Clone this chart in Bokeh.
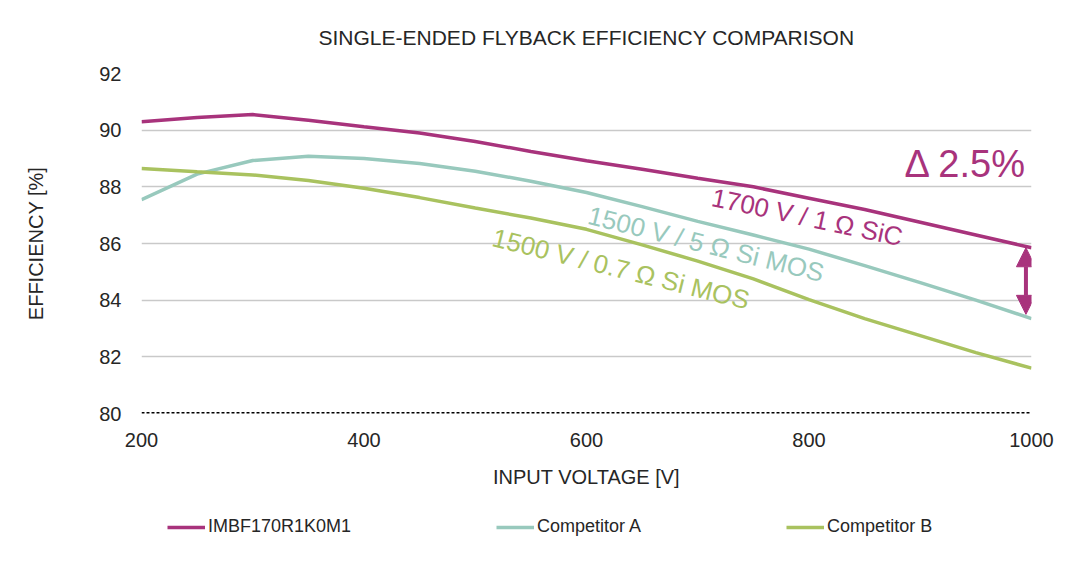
from bokeh.plotting import figure
from bokeh.layouts import column
from bokeh.models import (Label, Legend, LegendItem, Span, Arrow, NormalHead,
                          FixedTicker, Range1d)
from bokeh.embed import file_html
from bokeh.resources import INLINE

# efficiency vs input voltage
voltage = [200, 250, 300, 350, 400, 450, 500, 550, 600, 650, 700, 750, 800, 850, 900, 950, 1000]
imbf170 = [90.30, 90.45, 90.55, 90.35, 90.12, 89.90, 89.60, 89.25, 88.92, 88.62,
           88.30, 88.00, 87.60, 87.20, 86.75, 86.30, 85.85]
competitor_a = [87.55, 88.45, 88.93, 89.08, 89.00, 88.82, 88.55, 88.20, 87.80, 87.30,
                86.78, 86.30, 85.80, 85.22, 84.62, 84.00, 83.35]
competitor_b = [88.65, 88.53, 88.42, 88.22, 87.95, 87.62, 87.25, 86.90, 86.50, 85.95,
                85.38, 84.75, 84.02, 83.35, 82.75, 82.15, 81.60]
series_names = ["IMBF170R1K0M1", "Competitor A", "Competitor B"]

x_ticks = [200, 400, 600, 800, 1000]
y_ticks = [80, 82, 84, 86, 88, 90, 92]

MAGENTA = "#A8337C"
TEAL = "#98C9BD"
GREEN = "#A9C25F"
TEXT = "#262626"
FONT = "Liberation Sans"
colors = [MAGENTA, TEAL, GREEN]
series = [imbf170, competitor_a, competitor_b]

p = figure(width=1064, height=500, output_backend="svg", toolbar_location=None,
           x_range=Range1d(200, 1000), y_range=Range1d(80, 92),
           min_border_left=141, min_border_right=33, min_border_top=73, min_border_bottom=87)
p.outline_line_color = None
p.background_fill_color = "white"

p.title.text = "SINGLE-ENDED FLYBACK EFFICIENCY COMPARISON"
p.title.align = "center"
p.title.vertical_align = "top"
p.title.text_font = FONT
p.title.text_font_size = "21px"
p.title.text_font_style = "normal"
p.title.text_color = TEXT
p.title.standoff = 46

for ys, c in zip(series, colors):
    p.line(voltage, ys, line_color=c, line_width=3.5)

# axes
for ax in (p.xaxis[0], p.yaxis[0]):
    ax.axis_line_color = None
    ax.major_tick_line_color = None
    ax.minor_tick_line_color = None
    ax.major_label_text_font = FONT
    ax.major_label_text_font_size = "20px"
    ax.major_label_text_color = TEXT
    ax.axis_label_text_font = FONT
    ax.axis_label_text_font_size = "20px"
    ax.axis_label_text_font_style = "normal"
    ax.axis_label_text_color = TEXT

p.xaxis.ticker = FixedTicker(ticks=x_ticks)
p.yaxis.ticker = FixedTicker(ticks=y_ticks)
p.xaxis.major_label_standoff = 13
p.yaxis.major_label_standoff = 14
p.xaxis.axis_label = "INPUT VOLTAGE [V]"
p.yaxis.axis_label = "EFFICIENCY [%]"
p.xaxis.axis_label_standoff = 16
p.yaxis.axis_label_standoff = 49

p.xgrid.grid_line_color = None
p.ygrid.ticker = FixedTicker(ticks=y_ticks[1:])
p.ygrid.grid_line_color = "#C9C9C9"
p.ygrid.grid_line_width = 1.5

p.add_layout(Span(location=80, dimension="width", line_color="black",
                  line_width=3, line_dash="3 2"))

# curve annotations
p.add_layout(Label(x=713, y=87.64, text="1700 V / 1 \u03a9 SiC", angle=-12, angle_units="deg",
                   text_font=FONT, text_font_size="26px", text_color=MAGENTA,
                   text_align="left", text_baseline="alphabetic"))
p.add_layout(Label(x=602, y=87.01, text="1500 V / 5 \u03a9 Si MOS", angle=-14, angle_units="deg",
                   text_font=FONT, text_font_size="26px", text_color=TEAL,
                   text_align="left", text_baseline="alphabetic"))
p.add_layout(Label(x=516, y=86.23, text="1500 V / 0.7 \u03a9 Si MOS", angle=-14, angle_units="deg",
                   text_font=FONT, text_font_size="26px", text_color=GREEN,
                   text_align="left", text_baseline="alphabetic"))

p.add_layout(Label(x=996, y=88.80, text="\u0394 2.5%", text_font=FONT,
                   text_font_size="38px", text_color=MAGENTA,
                   text_align="right", text_baseline="alphabetic"))

p.add_layout(Arrow(x_start=995, y_start=83.5, x_end=995, y_end=85.85,
                   line_color=MAGENTA, line_width=4,
                   start=NormalHead(size=19, fill_color=MAGENTA, line_color=MAGENTA),
                   end=NormalHead(size=19, fill_color=MAGENTA, line_color=MAGENTA)))

# legend strip: a small figure underneath whose lines fall outside its view
leg = figure(width=1064, height=50, output_backend="svg", toolbar_location=None,
             x_range=Range1d(0, 1), y_range=Range1d(0, 1),
             min_border=0, outline_line_color=None)
leg.axis.visible = False
leg.grid.visible = False
items = []
for name, ys, c in zip(series_names, series, colors):
    r = leg.line(voltage, ys, line_color=c, line_width=3.5)
    items.append(LegendItem(label=name, renderers=[r]))

legend = Legend(items=items, orientation="horizontal", location=(26, 13),
                glyph_width=38, glyph_height=20, label_standoff=3, spacing=145,
                padding=0, margin=0, border_line_color=None,
                background_fill_alpha=0,
                label_text_font=FONT, label_text_font_size="18px", label_text_color=TEXT)
leg.add_layout(legend)

open("out.html", "w").write(file_html(column(p, leg, spacing=0), INLINE))
